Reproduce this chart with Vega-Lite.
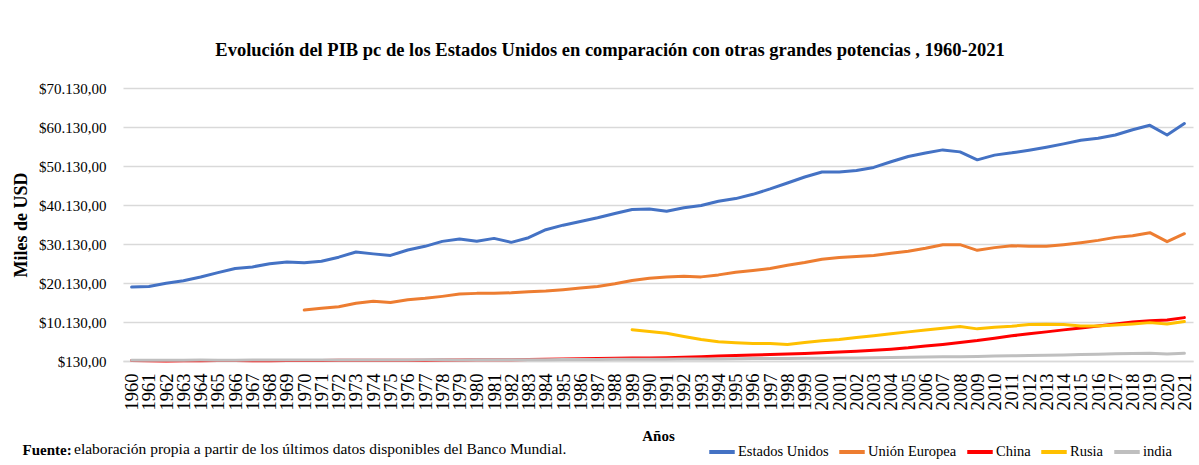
{
  "$schema": "https://vega.github.io/schema/vega-lite/v6.json",
  "padding": {"left": 12, "top": 40, "right": 5, "bottom": 0},
  "background": "white",
  "title": {"text": "Fuente:", "orient": "bottom", "anchor": "start", "font": "Liberation Serif", "fontSize": 15, "fontWeight": "bold", "color": "#000", "dx": 10, "offset": -17},
  "config": {
    "font": "Liberation Serif",
    "view": {"stroke": null},
    "axis": {"labelFont": "Liberation Serif", "titleFont": "Liberation Serif", "labelColor": "#000", "titleColor": "#000"},
    "legend": {"labelFont": "Liberation Serif", "titleFont": "Liberation Serif"}
  },
  "vconcat": [
    {
      "title": {"text": "Evolución del PIB pc de los Estados Unidos en comparación con otras grandes potencias , 1960-2021", "anchor": "middle", "font": "Liberation Serif", "fontSize": 18.5, "fontWeight": "bold", "color": "#000", "offset": 22, "dx": -48},
      "width": 1070,
      "height": 273,
      "data": {"values": [
        {"year":1960,"serie":"Estados Unidos","valor":19080},{"year":1961,"serie":"Estados Unidos","valor":19250},{"year":1962,"serie":"Estados Unidos","valor":20050},{"year":1963,"serie":"Estados Unidos","valor":20720},{"year":1964,"serie":"Estados Unidos","valor":21650},{"year":1965,"serie":"Estados Unidos","valor":22800},{"year":1966,"serie":"Estados Unidos","valor":23850},{"year":1967,"serie":"Estados Unidos","valor":24250},{"year":1968,"serie":"Estados Unidos","valor":25050},{"year":1969,"serie":"Estados Unidos","valor":25520},
        {"year":1970,"serie":"Estados Unidos","valor":25300},{"year":1971,"serie":"Estados Unidos","valor":25720},{"year":1972,"serie":"Estados Unidos","valor":26750},{"year":1973,"serie":"Estados Unidos","valor":28080},{"year":1974,"serie":"Estados Unidos","valor":27600},{"year":1975,"serie":"Estados Unidos","valor":27200},{"year":1976,"serie":"Estados Unidos","valor":28590},{"year":1977,"serie":"Estados Unidos","valor":29530},{"year":1978,"serie":"Estados Unidos","valor":30800},{"year":1979,"serie":"Estados Unidos","valor":31390},
        {"year":1980,"serie":"Estados Unidos","valor":30850},{"year":1981,"serie":"Estados Unidos","valor":31570},{"year":1982,"serie":"Estados Unidos","valor":30550},{"year":1983,"serie":"Estados Unidos","valor":31750},{"year":1984,"serie":"Estados Unidos","valor":33790},{"year":1985,"serie":"Estados Unidos","valor":34960},{"year":1986,"serie":"Estados Unidos","valor":35900},{"year":1987,"serie":"Estados Unidos","valor":36850},{"year":1988,"serie":"Estados Unidos","valor":37950},{"year":1989,"serie":"Estados Unidos","valor":38960},
        {"year":1990,"serie":"Estados Unidos","valor":39100},{"year":1991,"serie":"Estados Unidos","valor":38550},{"year":1992,"serie":"Estados Unidos","valor":39400},{"year":1993,"serie":"Estados Unidos","valor":39990},{"year":1994,"serie":"Estados Unidos","valor":41080},{"year":1995,"serie":"Estados Unidos","valor":41770},{"year":1996,"serie":"Estados Unidos","valor":42870},{"year":1997,"serie":"Estados Unidos","valor":44250},{"year":1998,"serie":"Estados Unidos","valor":45780},{"year":1999,"serie":"Estados Unidos","valor":47310},
        {"year":2000,"serie":"Estados Unidos","valor":48580},{"year":2001,"serie":"Estados Unidos","valor":48600},{"year":2002,"serie":"Estados Unidos","valor":49000},{"year":2003,"serie":"Estados Unidos","valor":49760},{"year":2004,"serie":"Estados Unidos","valor":51210},{"year":2005,"serie":"Estados Unidos","valor":52560},{"year":2006,"serie":"Estados Unidos","valor":53450},{"year":2007,"serie":"Estados Unidos","valor":54260},{"year":2008,"serie":"Estados Unidos","valor":53750},{"year":2009,"serie":"Estados Unidos","valor":51710},
        {"year":2010,"serie":"Estados Unidos","valor":52920},{"year":2011,"serie":"Estados Unidos","valor":53500},{"year":2012,"serie":"Estados Unidos","valor":54180},{"year":2013,"serie":"Estados Unidos","valor":54950},{"year":2014,"serie":"Estados Unidos","valor":55800},{"year":2015,"serie":"Estados Unidos","valor":56740},{"year":2016,"serie":"Estados Unidos","valor":57250},{"year":2017,"serie":"Estados Unidos","valor":58090},{"year":2018,"serie":"Estados Unidos","valor":59440},{"year":2019,"serie":"Estados Unidos","valor":60560},
        {"year":2020,"serie":"Estados Unidos","valor":58090},{"year":2021,"serie":"Estados Unidos","valor":61000},
        {"year":1970,"serie":"Unión Europea","valor":13210},{"year":1971,"serie":"Unión Europea","valor":13645},{"year":1972,"serie":"Unión Europea","valor":14050},{"year":1973,"serie":"Unión Europea","valor":14920},{"year":1974,"serie":"Unión Europea","valor":15430},{"year":1975,"serie":"Unión Europea","valor":15120},{"year":1976,"serie":"Unión Europea","valor":15840},{"year":1977,"serie":"Unión Europea","valor":16195},{"year":1978,"serie":"Unión Europea","valor":16700},{"year":1979,"serie":"Unión Europea","valor":17290},
        {"year":1980,"serie":"Unión Europea","valor":17470},{"year":1981,"serie":"Unión Europea","valor":17470},{"year":1982,"serie":"Unión Europea","valor":17620},{"year":1983,"serie":"Unión Europea","valor":17880},{"year":1984,"serie":"Unión Europea","valor":18050},{"year":1985,"serie":"Unión Europea","valor":18390},{"year":1986,"serie":"Unión Europea","valor":18820},{"year":1987,"serie":"Unión Europea","valor":19250},{"year":1988,"serie":"Unión Europea","valor":19920},{"year":1989,"serie":"Unión Europea","valor":20780},
        {"year":1990,"serie":"Unión Europea","valor":21370},{"year":1991,"serie":"Unión Europea","valor":21650},{"year":1992,"serie":"Unión Europea","valor":21880},{"year":1993,"serie":"Unión Europea","valor":21700},{"year":1994,"serie":"Unión Europea","valor":22210},{"year":1995,"serie":"Unión Europea","valor":22900},{"year":1996,"serie":"Unión Europea","valor":23330},{"year":1997,"serie":"Unión Europea","valor":23840},{"year":1998,"serie":"Unión Europea","valor":24680},{"year":1999,"serie":"Unión Europea","valor":25370},
        {"year":2000,"serie":"Unión Europea","valor":26220},{"year":2001,"serie":"Unión Europea","valor":26650},{"year":2002,"serie":"Unión Europea","valor":26900},{"year":2003,"serie":"Unión Europea","valor":27160},{"year":2004,"serie":"Unión Europea","valor":27740},{"year":2005,"serie":"Unión Europea","valor":28250},{"year":2006,"serie":"Unión Europea","valor":29050},{"year":2007,"serie":"Unión Europea","valor":29960},{"year":2008,"serie":"Unión Europea","valor":29960},{"year":2009,"serie":"Unión Europea","valor":28510},
        {"year":2010,"serie":"Unión Europea","valor":29200},{"year":2011,"serie":"Unión Europea","valor":29710},{"year":2012,"serie":"Unión Europea","valor":29530},{"year":2013,"serie":"Unión Europea","valor":29530},{"year":2014,"serie":"Unión Europea","valor":29960},{"year":2015,"serie":"Unión Europea","valor":30470},{"year":2016,"serie":"Unión Europea","valor":31060},{"year":2017,"serie":"Unión Europea","valor":31830},{"year":2018,"serie":"Unión Europea","valor":32260},{"year":2019,"serie":"Unión Europea","valor":33030},
        {"year":2020,"serie":"Unión Europea","valor":30730},{"year":2021,"serie":"Unión Europea","valor":32770},
        {"year":1960,"serie":"China","valor":240},{"year":1961,"serie":"China","valor":170},{"year":1962,"serie":"China","valor":160},{"year":1963,"serie":"China","valor":175},{"year":1964,"serie":"China","valor":200},{"year":1965,"serie":"China","valor":230},{"year":1966,"serie":"China","valor":245},{"year":1967,"serie":"China","valor":225},{"year":1968,"serie":"China","valor":210},{"year":1969,"serie":"China","valor":240},
        {"year":1970,"serie":"China","valor":280},{"year":1971,"serie":"China","valor":290},{"year":1972,"serie":"China","valor":295},{"year":1973,"serie":"China","valor":310},{"year":1974,"serie":"China","valor":310},{"year":1975,"serie":"China","valor":330},{"year":1976,"serie":"China","valor":320},{"year":1977,"serie":"China","valor":345},{"year":1978,"serie":"China","valor":380},{"year":1979,"serie":"China","valor":405},
        {"year":1980,"serie":"China","valor":430},{"year":1981,"serie":"China","valor":445},{"year":1982,"serie":"China","valor":480},{"year":1983,"serie":"China","valor":525},{"year":1984,"serie":"China","valor":595},{"year":1985,"serie":"China","valor":665},{"year":1986,"serie":"China","valor":715},{"year":1987,"serie":"China","valor":785},{"year":1988,"serie":"China","valor":860},{"year":1989,"serie":"China","valor":880},
        {"year":1990,"serie":"China","valor":900},{"year":1991,"serie":"China","valor":980},{"year":1992,"serie":"China","valor":1110},{"year":1993,"serie":"China","valor":1250},{"year":1994,"serie":"China","valor":1400},{"year":1995,"serie":"China","valor":1530},{"year":1996,"serie":"China","valor":1670},{"year":1997,"serie":"China","valor":1810},{"year":1998,"serie":"China","valor":1940},{"year":1999,"serie":"China","valor":2070},
        {"year":2000,"serie":"China","valor":2230},{"year":2001,"serie":"China","valor":2410},{"year":2002,"serie":"China","valor":2620},{"year":2003,"serie":"China","valor":2870},{"year":2004,"serie":"China","valor":3150},{"year":2005,"serie":"China","valor":3500},{"year":2006,"serie":"China","valor":3950},{"year":2007,"serie":"China","valor":4380},{"year":2008,"serie":"China","valor":4870},{"year":2009,"serie":"China","valor":5380},
        {"year":2010,"serie":"China","valor":5990},{"year":2011,"serie":"China","valor":6580},{"year":2012,"serie":"China","valor":7090},{"year":2013,"serie":"China","valor":7600},{"year":2014,"serie":"China","valor":8110},{"year":2015,"serie":"China","valor":8620},{"year":2016,"serie":"China","valor":9130},{"year":2017,"serie":"China","valor":9640},{"year":2018,"serie":"China","valor":10150},{"year":2019,"serie":"China","valor":10480},
        {"year":2020,"serie":"China","valor":10660},{"year":2021,"serie":"China","valor":11250},
        {"year":1989,"serie":"Rusia","valor":8150},
        {"year":1990,"serie":"Rusia","valor":7700},{"year":1991,"serie":"Rusia","valor":7250},{"year":1992,"serie":"Rusia","valor":6400},{"year":1993,"serie":"Rusia","valor":5640},{"year":1994,"serie":"Rusia","valor":5050},{"year":1995,"serie":"Rusia","valor":4800},{"year":1996,"serie":"Rusia","valor":4620},{"year":1997,"serie":"Rusia","valor":4620},{"year":1998,"serie":"Rusia","valor":4360},{"year":1999,"serie":"Rusia","valor":4870},
        {"year":2000,"serie":"Rusia","valor":5310},{"year":2001,"serie":"Rusia","valor":5640},{"year":2002,"serie":"Rusia","valor":6150},{"year":2003,"serie":"Rusia","valor":6580},{"year":2004,"serie":"Rusia","valor":7090},{"year":2005,"serie":"Rusia","valor":7600},{"year":2006,"serie":"Rusia","valor":8100},{"year":2007,"serie":"Rusia","valor":8500},{"year":2008,"serie":"Rusia","valor":8950},{"year":2009,"serie":"Rusia","valor":8370},
        {"year":2010,"serie":"Rusia","valor":8800},{"year":2011,"serie":"Rusia","valor":9050},{"year":2012,"serie":"Rusia","valor":9460},{"year":2013,"serie":"Rusia","valor":9560},{"year":2014,"serie":"Rusia","valor":9460},{"year":2015,"serie":"Rusia","valor":9130},{"year":2016,"serie":"Rusia","valor":9130},{"year":2017,"serie":"Rusia","valor":9390},{"year":2018,"serie":"Rusia","valor":9640},{"year":2019,"serie":"Rusia","valor":9970},
        {"year":2020,"serie":"Rusia","valor":9640},{"year":2021,"serie":"Rusia","valor":10230},
        {"year":1960,"serie":"india","valor":330},{"year":1961,"serie":"india","valor":335},{"year":1962,"serie":"india","valor":340},{"year":1963,"serie":"india","valor":350},{"year":1964,"serie":"india","valor":370},{"year":1965,"serie":"india","valor":350},{"year":1966,"serie":"india","valor":345},{"year":1967,"serie":"india","valor":365},{"year":1968,"serie":"india","valor":370},{"year":1969,"serie":"india","valor":385},
        {"year":1970,"serie":"india","valor":395},{"year":1971,"serie":"india","valor":390},{"year":1972,"serie":"india","valor":380},{"year":1973,"serie":"india","valor":385},{"year":1974,"serie":"india","valor":380},{"year":1975,"serie":"india","valor":405},{"year":1976,"serie":"india","valor":405},{"year":1977,"serie":"india","valor":425},{"year":1978,"serie":"india","valor":440},{"year":1979,"serie":"india","valor":410},
        {"year":1980,"serie":"india","valor":430},{"year":1981,"serie":"india","valor":445},{"year":1982,"serie":"india","valor":450},{"year":1983,"serie":"india","valor":470},{"year":1984,"serie":"india","valor":480},{"year":1985,"serie":"india","valor":495},{"year":1986,"serie":"india","valor":510},{"year":1987,"serie":"india","valor":520},{"year":1988,"serie":"india","valor":560},{"year":1989,"serie":"india","valor":580},
        {"year":1990,"serie":"india","valor":600},{"year":1991,"serie":"india","valor":595},{"year":1992,"serie":"india","valor":615},{"year":1993,"serie":"india","valor":635},{"year":1994,"serie":"india","valor":665},{"year":1995,"serie":"india","valor":700},{"year":1996,"serie":"india","valor":740},{"year":1997,"serie":"india","valor":755},{"year":1998,"serie":"india","valor":790},{"year":1999,"serie":"india","valor":840},
        {"year":2000,"serie":"india","valor":850},{"year":2001,"serie":"india","valor":880},{"year":2002,"serie":"india","valor":900},{"year":2003,"serie":"india","valor":960},{"year":2004,"serie":"india","valor":1010},{"year":2005,"serie":"india","valor":1070},{"year":2006,"serie":"india","valor":1140},{"year":2007,"serie":"india","valor":1210},{"year":2008,"serie":"india","valor":1230},{"year":2009,"serie":"india","valor":1310},
        {"year":2010,"serie":"india","valor":1400},{"year":2011,"serie":"india","valor":1460},{"year":2012,"serie":"india","valor":1520},{"year":2013,"serie":"india","valor":1580},{"year":2014,"serie":"india","valor":1670},{"year":2015,"serie":"india","valor":1770},{"year":2016,"serie":"india","valor":1890},{"year":2017,"serie":"india","valor":1990},{"year":2018,"serie":"india","valor":2080},{"year":2019,"serie":"india","valor":2120},
        {"year":2020,"serie":"india","valor":1940},{"year":2021,"serie":"india","valor":2090}
      ]},
      "mark": {"type": "line", "strokeWidth": 3, "strokeCap": "round", "strokeJoin": "round"},
      "encoding": {
        "x": {"field": "year", "type": "ordinal",
          "axis": {"labelAngle": -90, "labelFontSize": 18.5, "labelPadding": 12, "ticks": false, "domain": true, "domainColor": "#d9d9d9", "domainWidth": 1.3, "grid": false, "title": "Años", "titleFontSize": 15, "titleFontWeight": "bold", "titlePadding": 18}},
        "y": {"field": "valor", "type": "quantitative",
          "scale": {"domain": [130, 70130], "nice": false, "zero": false},
          "axis": {"values": [130, 10130, 20130, 30130, 40130, 50130, 60130, 70130], "grid": true, "gridColor": "#d9d9d9", "gridWidth": 1.3, "domain": false, "ticks": false, "labelPadding": 17, "labelFontSize": 15, "labelExpr": "'$' + replace(replace(replace(format(datum.value, ',.2f'), ',', ';'), '.', ','), ';', '.')", "title": "Miles de USD", "titleFontSize": 18, "titleFontWeight": "bold", "titlePadding": 8}},
        "color": {"field": "serie", "type": "nominal",
          "scale": {"domain": ["Estados Unidos", "Unión Europea", "China", "Rusia", "india"], "range": ["#4472C4", "#ED7D31", "#FF0000", "#FFC000", "#BFBFBF"]},
          "legend": {"orient": "none", "legendX": -49, "legendY": 349, "direction": "horizontal", "title": "elaboración propia a partir de los últimos datos disponibles del Banco Mundial.", "titleOrient": "left", "titleFontWeight": "normal", "titleFont": "Liberation Serif", "titleFontSize": 15.5, "titleColor": "#000", "titlePadding": 140, "titleLimit": 800, "symbolType": "stroke", "symbolStrokeWidth": 4, "symbolSize": 650, "labelFont": "Liberation Serif", "labelFontSize": 14.5, "labelColor": "#000", "labelOffset": 1, "columnPadding": 2}}
      }
    }
  ]
}
